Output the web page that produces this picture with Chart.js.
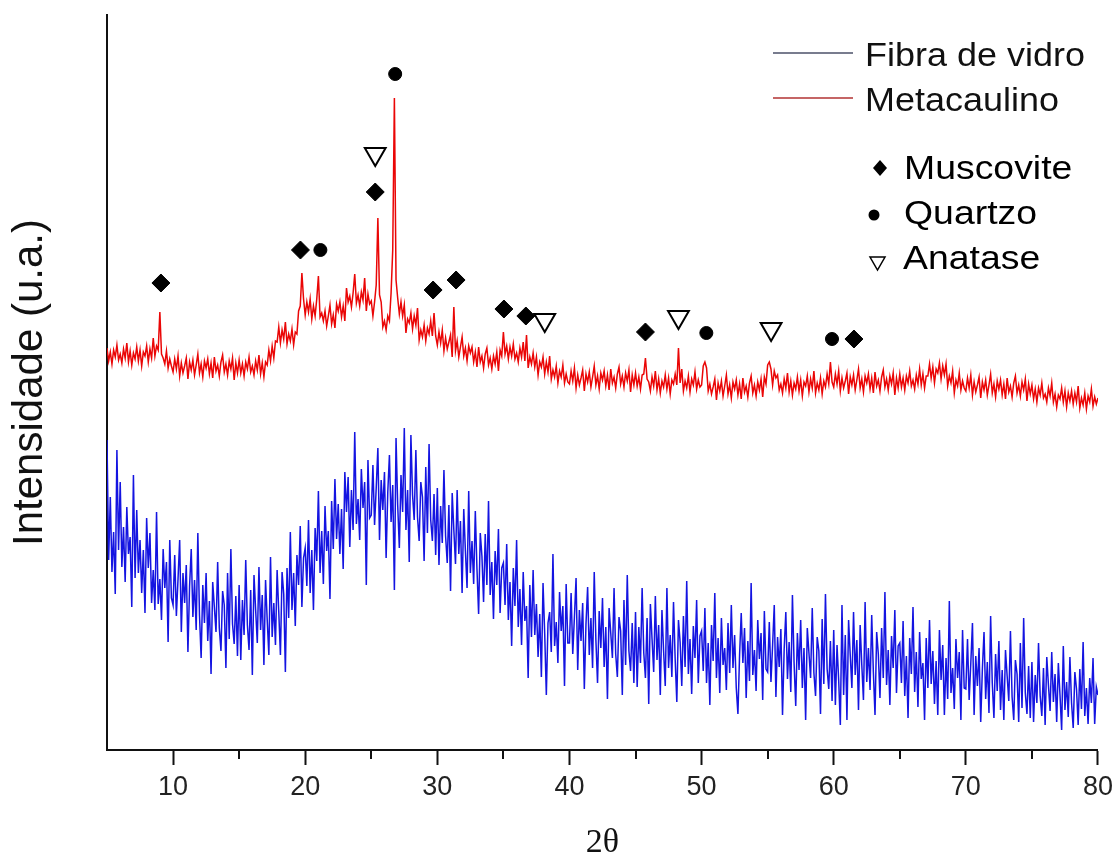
<!DOCTYPE html>
<html>
<head>
<meta charset="utf-8">
<script src="https://cdn.jsdelivr.net/npm/chart.js@4.4.1/dist/chart.umd.min.js"></script>
<style>
  html, body { margin: 0; padding: 0; background: #fff; }
</style>
</head>
<body>
<canvas id="xrd_chart" width="1119" height="860"></canvas>
<script>
// 2-theta grid: 5 to 80 in 0.125 steps, one row below = 5 degrees
const theta_start = 5
const theta_step = 0.125

// intensities (arbitrary units, 0 = bottom axis)
const metacaulino = [
    402, 389, 398, 386, 400, 393, 405, 390, 396, 387, 401, 392, 407, 388, 399, 385, 397, 391, 403, 389, 400, 384, 398, 394, 404, 388, 401, 392, 412, 394, 404, 400, 438, 396, 392, 386, 399, 382, 391, 384,
    378, 391, 381, 394, 374, 387, 377, 384, 392, 371, 388, 380, 390, 375, 385, 396, 377, 386, 373, 389, 382, 391, 376, 387, 372, 393, 379, 385, 374, 388, 395, 378, 386, 375, 389, 381, 392, 370, 387, 377,
    390, 377, 386, 374, 388, 381, 393, 378, 384, 375, 389, 380, 395, 376, 387, 373, 388, 385, 400, 389, 404, 392, 409, 408, 423, 407, 420, 411, 428, 406, 416, 409, 421, 405, 418, 416, 439, 444, 477, 451,
    435, 448, 438, 451, 431, 444, 434, 451, 474, 433, 437, 429, 439, 424, 434, 445, 426, 435, 422, 446, 439, 448, 433, 444, 429, 462, 448, 454, 443, 457, 476, 447, 455, 444, 458, 450, 472, 439, 456, 446,
    449, 434, 448, 465, 532, 455, 448, 423, 429, 420, 434, 429, 457, 500, 652, 470, 452, 436, 448, 434, 445, 417, 431, 427, 437, 421, 434, 425, 442, 410, 420, 413, 425, 409, 422, 416, 429, 414, 437, 414,
    405, 418, 407, 420, 399, 412, 401, 408, 415, 393, 443, 399, 409, 393, 403, 413, 394, 402, 389, 404, 397, 403, 388, 398, 383, 403, 388, 394, 382, 396, 402, 385, 392, 381, 394, 386, 398, 379, 400, 394,
    418, 396, 404, 391, 403, 394, 406, 391, 397, 388, 402, 393, 408, 389, 415, 382, 393, 386, 397, 383, 393, 375, 388, 383, 393, 376, 388, 378, 394, 371, 380, 373, 384, 367, 379, 373, 385, 367, 376, 368,
    366, 379, 369, 382, 362, 375, 365, 372, 380, 359, 376, 368, 378, 363, 373, 384, 365, 374, 361, 377, 370, 379, 364, 375, 360, 381, 367, 373, 362, 376, 383, 366, 374, 363, 377, 369, 380, 358, 375, 365,
    377, 364, 373, 361, 375, 376, 392, 371, 368, 359, 373, 364, 379, 360, 371, 357, 369, 363, 375, 361, 372, 356, 370, 366, 376, 365, 402, 367, 381, 359, 369, 362, 374, 358, 371, 365, 378, 361, 370, 363,
    365, 384, 388, 382, 359, 366, 356, 363, 371, 350, 367, 359, 369, 354, 364, 375, 356, 365, 352, 368, 361, 370, 355, 366, 351, 372, 358, 364, 353, 367, 374, 357, 365, 354, 368, 360, 371, 353, 373, 366,
    385, 388, 381, 365, 379, 372, 375, 360, 366, 357, 371, 362, 377, 358, 369, 355, 367, 361, 373, 359, 370, 354, 368, 364, 374, 358, 371, 362, 379, 357, 367, 360, 372, 356, 369, 363, 376, 366, 388, 368,
    363, 376, 366, 379, 359, 372, 362, 369, 377, 356, 373, 365, 375, 360, 370, 381, 362, 371, 358, 374, 367, 376, 361, 372, 357, 378, 364, 370, 359, 373, 380, 363, 371, 360, 374, 366, 377, 355, 372, 362,
    376, 363, 372, 360, 374, 367, 379, 364, 370, 361, 375, 366, 381, 365, 376, 362, 374, 374, 386, 372, 383, 367, 381, 377, 387, 371, 384, 375, 386, 364, 374, 367, 379, 357, 370, 364, 377, 360, 369, 362,
    359, 372, 362, 375, 355, 368, 358, 365, 373, 352, 368, 360, 370, 355, 365, 376, 357, 366, 353, 369, 361, 370, 355, 366, 351, 372, 358, 364, 353, 367, 374, 357, 365, 354, 368, 360, 371, 349, 366, 356,
    365, 351, 361, 348, 362, 355, 367, 352, 356, 348, 362, 354, 367, 348, 356, 343, 355, 351, 362, 348, 359, 343, 357, 349, 359, 346, 357, 348, 364, 342, 352, 345, 357, 341, 354, 348, 361, 344, 353, 346,
    352
]

const fibra_vidro = [
    310, 190, 253, 178, 218, 156, 300, 200, 268, 183, 223, 168, 243, 196, 213, 143, 275, 172, 240, 177, 210, 157, 200, 137, 232, 182, 217, 147, 180, 140, 238, 146, 171, 130, 201, 162, 188, 108, 210, 152,
    145, 195, 134, 171, 210, 118, 177, 147, 185, 98, 164, 201, 133, 170, 120, 217, 135, 92, 165, 127, 177, 109, 149, 76, 168, 143, 118, 188, 122, 99, 159, 145, 82, 177, 111, 201, 126, 106, 154, 94,
    165, 90, 150, 115, 190, 125, 100, 160, 75, 175, 140, 107, 183, 120, 155, 85, 170, 130, 95, 193, 113, 147, 105, 180, 138, 95, 178, 156, 78, 182, 132, 218, 140, 177, 124, 195, 165, 224, 143, 192,
    202, 164, 230, 157, 200, 140, 222, 189, 259, 177, 219, 166, 244, 199, 219, 151, 249, 201, 271, 211, 246, 196, 241, 181, 278, 238, 273, 203, 260, 220, 318, 226, 251, 210, 281, 242, 268, 165, 290, 232,
    235, 285, 225, 262, 302, 210, 270, 240, 278, 192, 258, 295, 228, 265, 160, 312, 245, 202, 275, 238, 322, 220, 260, 188, 315, 255, 230, 300, 233, 209, 268, 253, 189, 283, 217, 306, 230, 209, 256, 195,
    262, 185, 244, 207, 280, 214, 187, 245, 159, 257, 220, 186, 260, 196, 229, 157, 241, 199, 162, 259, 177, 209, 166, 239, 181, 136, 217, 194, 148, 216, 165, 249, 155, 188, 131, 199, 165, 221, 137, 182,
    187, 145, 206, 130, 168, 104, 182, 144, 210, 123, 161, 105, 178, 129, 144, 72, 165, 113, 180, 115, 146, 93, 136, 73, 167, 117, 55, 127, 138, 98, 196, 104, 128, 87, 158, 119, 144, 64, 166, 107,
    107, 157, 96, 133, 172, 80, 140, 109, 147, 61, 126, 163, 95, 132, 82, 178, 110, 67, 139, 102, 152, 83, 123, 51, 142, 117, 92, 162, 96, 73, 133, 119, 55, 150, 85, 175, 99, 79, 127, 67,
    138, 63, 123, 87, 162, 97, 72, 132, 46, 146, 111, 78, 154, 90, 125, 55, 140, 99, 64, 162, 82, 115, 73, 148, 91, 48, 130, 108, 64, 134, 83, 169, 76, 111, 56, 124, 92, 150, 67, 114,
    119, 79, 142, 67, 107, 45, 125, 89, 157, 72, 112, 57, 132, 85, 102, 60, 127, 77, 145, 82, 115, 62, 36, 95, 137, 87, 122, 52, 109, 69, 167, 75, 100, 59, 130, 91, 117, 50, 139, 81,
    78, 128, 68, 105, 145, 53, 113, 83, 121, 35, 101, 138, 71, 108, 58, 155, 87, 44, 117, 80, 130, 62, 102, 30, 122, 97, 72, 142, 77, 54, 113, 99, 36, 131, 66, 156, 81, 61, 109, 49,
    120, 45, 105, 70, 25, 145, 55, 115, 30, 130, 95, 62, 138, 75, 110, 40, 125, 85, 50, 148, 68, 102, 60, 135, 78, 35, 118, 96, 52, 122, 72, 158, 65, 100, 45, 114, 82, 140, 57, 104,
    107, 67, 129, 54, 94, 32, 112, 76, 143, 58, 98, 43, 118, 71, 87, 30, 112, 62, 130, 66, 99, 46, 89, 35, 120, 70, 105, 35, 92, 51, 149, 57, 82, 41, 111, 72, 98, 30, 120, 62,
    61, 111, 50, 87, 127, 35, 94, 64, 102, 28, 81, 118, 51, 88, 37, 134, 67, 32, 96, 59, 109, 40, 80, 30, 100, 74, 49, 119, 53, 30, 90, 76, 28, 107, 42, 132, 57, 36, 84, 32,
    88, 28, 75, 47, 107, 54, 34, 82, 25, 93, 65, 39, 98, 48, 76, 28, 87, 55, 20, 104, 40, 68, 33, 93, 47, 22, 78, 61, 25, 81, 41, 108, 34, 62, 26, 72, 47, 92, 26, 63,
    55
]

// phase markers (2-theta, height)
const muscovite_x = [9.08, 19.64, 25.3, 29.68, 31.42, 35.04, 36.7, 45.75, 61.53]
const muscovite_y = [467, 500, 558, 460, 470, 441, 434, 418, 411]
const quartzo_x = [26.81, 21.15, 50.36, 59.87]
const quartzo_y = [676, 500, 417, 411]
const anatase_x = [25.3, 38.13, 48.25, 55.26]
const anatase_y = [596, 430, 433, 421]

const minor_ticks = [15, 25, 35, 45, 55, 65, 75]

const font_family = "'Liberation Sans', Arial, sans-serif"

function to_points(values)
{
    return values.map((v, i) => ({ x: theta_start + i * theta_step, y: v }))
}

function pair(xs, ys)
{
    return xs.map((x, i) => ({ x: x, y: ys[i] }))
}

function wide_text(c, text, x, y, sx)
{
    c.save()
    c.translate(x, y)
    c.scale(sx, 1)
    c.fillText(text, 0, 0)
    c.restore()
}

const minor_tick_plugin = {
    id: 'minor_ticks',
    afterDraw(chart) {
        const c = chart.ctx
        const xs = chart.scales.x
        const bottom = chart.chartArea.bottom
        c.save()
        c.strokeStyle = '#111'
        c.lineWidth = 2
        minor_ticks.forEach(v => {
            const px = Math.round(xs.getPixelForValue(v))
            c.beginPath()
            c.moveTo(px, bottom)
            c.lineTo(px, bottom + 9)
            c.stroke()
        })
        c.restore()
    }
}

const legend_plugin = {
    id: 'xrd_legend',
    afterDraw(chart) {
        const c = chart.ctx
        c.save()
        c.textBaseline = 'alphabetic'
        c.fillStyle = '#111'

        // series
        c.lineWidth = 1.5
        c.strokeStyle = '#4b5068'
        c.beginPath(); c.moveTo(773, 53); c.lineTo(853, 53); c.stroke()
        c.strokeStyle = '#b23232'
        c.beginPath(); c.moveTo(773, 98); c.lineTo(853, 98); c.stroke()
        c.font = '33px ' + font_family
        wide_text(c, 'Fibra de vidro', 865, 66, 1.09)
        wide_text(c, 'Metacaulino', 865, 111, 1.09)

        // phases
        c.font = '34px ' + font_family
        c.fillStyle = '#000'
        c.beginPath()
        c.moveTo(880, 160); c.lineTo(887, 168); c.lineTo(880, 176); c.lineTo(873, 168)
        c.closePath(); c.fill()
        wide_text(c, 'Muscovite', 904, 179, 1.1)

        c.beginPath(); c.arc(874, 215, 5.5, 0, Math.PI * 2); c.fill()
        wide_text(c, 'Quartzo', 904, 224, 1.1)

        c.strokeStyle = '#000'
        c.lineWidth = 1.5
        c.beginPath()
        c.moveTo(870, 257); c.lineTo(885, 257); c.lineTo(877.5, 270)
        c.closePath(); c.stroke()
        wide_text(c, 'Anatase', 903, 269, 1.1)
        c.restore()
    }
}

let xrd_chart = null

function load_xrd_chart()
{
    const ctx = document.getElementById('xrd_chart').getContext('2d')

    if(xrd_chart)
        xrd_chart.destroy()

    xrd_chart = new Chart(ctx,
        {
            type: 'scatter',
            data: {
                datasets: [
                    {
                        label: 'Muscovite',
                        data: pair(muscovite_x, muscovite_y),
                        pointStyle: 'rectRot',
                        pointRadius: 9,
                        backgroundColor: '#000',
                        borderColor: '#000',
                        borderWidth: 1
                    },
                    {
                        label: 'Quartzo',
                        data: pair(quartzo_x, quartzo_y),
                        pointStyle: 'circle',
                        pointRadius: 6.5,
                        backgroundColor: '#000',
                        borderColor: '#000',
                        borderWidth: 1
                    },
                    {
                        label: 'Anatase',
                        data: pair(anatase_x, anatase_y),
                        pointStyle: 'triangle',
                        pointRotation: 180,
                        pointRadius: 12,
                        backgroundColor: '#fff',
                        borderColor: '#000',
                        borderWidth: 2
                    },
                    {
                        label: 'Metacaulino',
                        data: to_points(metacaulino),
                        showLine: true,
                        pointRadius: 0,
                        borderColor: 'rgb(234, 6, 6)',
                        borderWidth: 1.5
                    },
                    {
                        label: 'Fibra de vidro',
                        data: to_points(fibra_vidro),
                        showLine: true,
                        pointRadius: 0,
                        borderColor: 'rgb(20, 20, 225)',
                        borderWidth: 1.5
                    }
                ]
            },
            options: {
                responsive: false,
                animation: false,
                layout: {
                    padding: { top: 15, right: 19, bottom: 0, left: 0 }
                },
                plugins: {
                    legend: { display: false },
                    tooltip: { enabled: false }
                },
                scales: {
                    x: {
                        type: 'linear',
                        min: 5,
                        max: 80,
                        afterFit: (scale) => { scale.height = 110 },
                        border: { display: true, color: '#111', width: 2 },
                        grid: {
                            drawOnChartArea: false,
                            drawTicks: true,
                            tickLength: 15,
                            tickWidth: 2,
                            tickColor: (c) => (c.tick && c.tick.value % 10 === 0) ? '#111' : 'rgba(0,0,0,0)'
                        },
                        ticks: {
                            stepSize: 5,
                            padding: 6,
                            color: '#222',
                            font: { family: font_family, size: 27 },
                            maxRotation: 0,
                            autoSkip: false,
                            callback: (v) => v % 10 === 0 ? String(v) : ''
                        },
                        title: {
                            display: true,
                            text: '2θ',
                            color: '#111',
                            font: { family: "'Liberation Serif', 'Times New Roman', serif", size: 34, lineHeight: 1 },
                            padding: { top: 0, bottom: 0 }
                        }
                    },
                    y: {
                        min: 0,
                        max: 735,
                        afterFit: (scale) => { scale.width = 107 },
                        border: { display: true, color: '#111', width: 2 },
                        grid: { display: false },
                        ticks: { display: false },
                        title: {
                            display: true,
                            text: 'Intensidade (u.a.)',
                            color: '#111',
                            font: { family: font_family, size: 42, lineHeight: 1 },
                            padding: { top: 9, bottom: 0 }
                        }
                    }
                }
            },
            plugins: [minor_tick_plugin, legend_plugin]
        }
    )
}

function init()
{
    load_xrd_chart()
}

init()
</script>
</body>
</html>
